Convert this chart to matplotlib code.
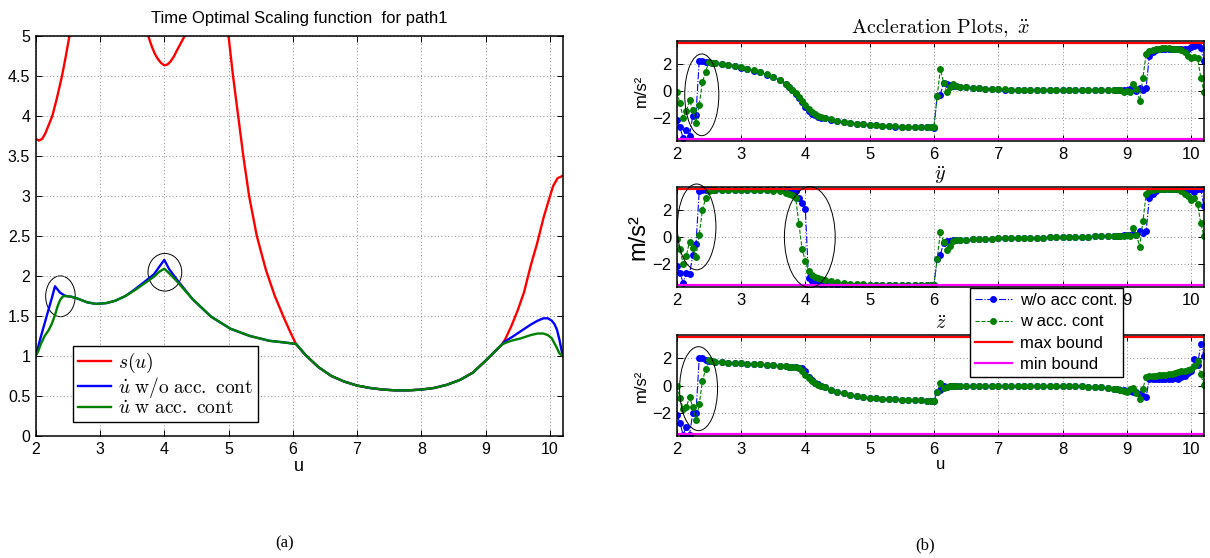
# Libraries
import matplotlib.pyplot as plt
from matplotlib.patches import Ellipse
from matplotlib.ticker import FormatStrFormatter

plt.rcParams['font.family'] = ['Liberation Sans', 'DejaVu Sans']
plt.rcParams['mathtext.fontset'] = 'cm'

# ---------------- (a) scaling function data ----------------
# part shared by all three curves (they coincide between ~6 and ~9.3)
u_mid = [6.05, 6.2, 6.4, 6.6, 6.8, 7.0, 7.2, 7.4, 7.6, 7.8, 8.0, 8.2, 8.4, 8.6, 8.8, 9.0, 9.15, 9.25]
v_mid = [1.15, 1.01, 0.86, 0.75, 0.68, 0.63, 0.60, 0.58, 0.57, 0.57, 0.58, 0.60, 0.64, 0.70, 0.79, 0.94, 1.06, 1.14]

# s(u) before / after the common part
u_s_head = [2.00, 2.05, 2.10, 2.15, 2.20, 2.26, 2.33, 2.41, 2.47, 2.53, 2.60, 2.80, 3.20, 3.60, 3.70,
            3.75, 3.80, 3.85, 3.90, 3.95, 4.00, 4.05, 4.10, 4.15, 4.20, 4.26, 4.32, 4.40, 4.60, 4.90,
            5.00, 5.07, 5.15, 5.23, 5.32, 5.44, 5.58, 5.72, 5.86, 5.96]
s_head = [3.71, 3.69, 3.71, 3.78, 3.88, 4.00, 4.22, 4.50, 4.75, 5.02, 5.40, 6.50, 7.00, 5.60, 5.25,
          5.00, 4.88, 4.78, 4.71, 4.66, 4.63, 4.64, 4.68, 4.74, 4.82, 4.91, 5.00, 5.30, 6.50, 5.60,
          5.00, 4.50, 4.00, 3.50, 3.00, 2.50, 2.08, 1.75, 1.48, 1.30]
u_s_tail = [9.3, 9.4, 9.5, 9.6, 9.7, 9.8, 9.9, 9.97, 10.05, 10.12, 10.2]
s_tail = [1.20, 1.37, 1.57, 1.80, 2.12, 2.40, 2.72, 2.91, 3.12, 3.22, 3.25]

# u_dot with / without acceleration constraint
u_d_head = [2.00, 2.04, 2.08, 2.14, 2.20, 2.25, 2.30, 2.34, 2.38, 2.42, 2.46, 2.55, 2.64, 2.80, 2.94,
            3.10, 3.24, 3.40, 3.54, 3.70, 3.84, 3.92, 4.00, 4.08, 4.20, 4.44, 4.73, 5.03, 5.33, 5.63,
            5.85]
ud_wo_head = [1.00, 1.12, 1.24, 1.41, 1.58, 1.72, 1.87, 1.83, 1.79, 1.77, 1.75, 1.74, 1.72, 1.67, 1.65,
              1.66, 1.69, 1.75, 1.83, 1.93, 2.02, 2.11, 2.20, 2.08, 1.95, 1.71, 1.49, 1.34, 1.25, 1.19,
              1.17]
ud_w_head = [1.00, 1.06, 1.15, 1.25, 1.32, 1.40, 1.51, 1.62, 1.70, 1.74, 1.75, 1.74, 1.72, 1.67, 1.65,
             1.66, 1.69, 1.75, 1.82, 1.91, 1.99, 2.05, 2.09, 2.03, 1.93, 1.71, 1.49, 1.34, 1.25, 1.19,
             1.17]
u_d_tail = [9.30, 9.40, 9.55, 9.70, 9.81, 9.90, 9.97, 10.03, 10.07, 10.11, 10.15, 10.20]
ud_wo_tail = [1.18, 1.23, 1.31, 1.39, 1.44, 1.47, 1.47, 1.44, 1.40, 1.33, 1.20, 1.00]
ud_w_tail = [1.16, 1.19, 1.22, 1.26, 1.28, 1.28, 1.26, 1.22, 1.16, 1.10, 1.03, 1.00]

# ---------------- (b) acceleration data ----------------
u_acc = [2.00, 2.05, 2.10, 2.15, 2.20, 2.25, 2.30, 2.35, 2.40, 2.45, 2.50, 2.55, 2.60,
         2.7, 2.8, 2.9, 3.0, 3.1, 3.2, 3.3, 3.4, 3.5, 3.6, 3.7,
         3.75, 3.80, 3.85, 3.90, 3.95, 4.00, 4.05, 4.10, 4.15, 4.20, 4.25, 4.30,
         4.4, 4.5, 4.6, 4.7, 4.8, 4.9, 5.0, 5.1, 5.2, 5.3, 5.4, 5.5, 5.6, 5.7, 5.8, 5.9,
         5.95, 6.00, 6.05, 6.10, 6.15, 6.20, 6.25, 6.30, 6.35, 6.40,
         6.5, 6.6, 6.7, 6.8, 6.9, 7.0, 7.1, 7.2, 7.3, 7.4, 7.5, 7.6, 7.7, 7.8, 7.9, 8.0,
         8.1, 8.2, 8.3, 8.4, 8.5, 8.6, 8.7, 8.8,
         8.85, 8.90, 8.95, 9.00, 9.05, 9.10, 9.15, 9.20, 9.25, 9.30, 9.35, 9.40, 9.45, 9.50,
         9.55, 9.60, 9.65, 9.70, 9.75, 9.80, 9.85, 9.90, 9.95, 10.00, 10.05, 10.10, 10.15, 10.20]

x_wo = [-2.10, -2.66, -3.44, -2.83, -3.27, -1.80, -1.73, 2.24, 2.24, 2.17, 2.12, 2.10, 2.08,
        2.00, 1.93, 1.83, 1.72, 1.61, 1.50, 1.38, 1.22, 1.03, 0.80, 0.50,
        0.28, 0.05, -0.20, -0.50, -0.80, -1.20, -1.45, -1.65, -1.78, -1.87, -1.95, -2.00,
        -2.10, -2.20, -2.28, -2.34, -2.40, -2.44, -2.48, -2.52, -2.55, -2.58, -2.60, -2.62, -2.63, -2.64, -2.65, -2.66,
        -2.66, -2.67, -0.39, -0.25, 0.60, 0.50, 0.42, 0.38, 0.35, 0.32,
        0.28, 0.24, 0.20, 0.17, 0.15, 0.13, 0.12, 0.11, 0.10, 0.09, 0.08, 0.08, 0.07, 0.07, 0.06, 0.06,
        0.06, 0.06, 0.06, 0.06, 0.06, 0.07, 0.07, 0.08,
        0.08, 0.10, 0.10, 0.12, 0.15, 0.22, 0.00, 0.20, 0.05, 0.25, 2.60, 2.85, 3.00, 3.08,
        3.10, 3.12, 3.12, 3.12, 3.12, 3.10, 3.10, 3.10, 3.07, 3.24, 3.32, 3.37, 3.20, 2.20]
x_w = [-0.05, -0.88, -1.98, -1.49, -0.68, -1.37, -2.34, -1.00, 0.66, 1.44, 2.12, 2.10, 2.08,
       2.02, 1.95, 1.85, 1.74, 1.63, 1.52, 1.40, 1.24, 1.05, 0.82, 0.52,
       0.32, 0.10, -0.13, -0.40, -0.70, -1.05, -1.32, -1.55, -1.70, -1.80, -1.90, -1.97,
       -2.08, -2.18, -2.26, -2.32, -2.38, -2.42, -2.46, -2.50, -2.53, -2.56, -2.58, -2.60, -2.61, -2.62, -2.63, -2.64,
       -2.64, -2.65, -0.39, 1.61, 0.63, -0.10, 0.34, 0.54, 0.40, 0.33,
       0.29, 0.25, 0.21, 0.18, 0.16, 0.14, 0.13, 0.12, 0.11, 0.10, 0.09, 0.09, 0.08, 0.08, 0.07, 0.07,
       0.07, 0.07, 0.07, 0.07, 0.07, 0.08, 0.08, 0.09,
       0.09, 0.10, -0.10, 0.00, -0.10, 0.56, 0.15, -0.70, 1.00, 2.70, 2.95, 3.05, 3.10, 3.12,
       3.13, 3.13, 3.13, 3.12, 3.10, 3.08, 3.00, 2.90, 2.60, 2.40, 2.54, 2.40, 1.00, -0.05]

y_wo = [-2.15, -2.65, -3.33, -2.60, -2.70, -1.30, -0.50, 3.38, 3.43, 3.45, 3.46, 3.47, 3.47,
        3.48, 3.48, 3.48, 3.48, 3.48, 3.48, 3.48, 3.48, 3.48, 3.47, 3.45,
        3.43, 3.40, 3.37, 2.90, 2.50, 2.10, -3.00, -3.25, -3.33, -3.38, -3.42, -3.45,
        -3.47, -3.48, -3.49, -3.50, -3.50, -3.50, -3.50, -3.50, -3.50, -3.50, -3.50, -3.50, -3.50, -3.50, -3.50, -3.50,
        -3.50, -3.50, -1.62, -1.32, -0.40, -0.30, -0.25, -0.22, -0.21, -0.20,
        -0.18, -0.17, -0.15, -0.13, -0.12, -0.10, -0.09, -0.08, -0.07, -0.06, -0.05, -0.04, -0.03, -0.02, -0.01, 0.00,
        0.01, 0.02, 0.03, 0.04, 0.05, 0.06, 0.07, 0.08,
        0.10, 0.12, 0.14, 0.15, 0.17, 0.20, 0.17, 0.42, 0.30, 0.42, 2.90, 3.20, 3.40, 3.50,
        3.50, 3.50, 3.50, 3.50, 3.50, 3.50, 3.50, 3.48, 3.45, 3.50, 3.30, 3.50, 3.50, 2.27]
y_w = [-0.15, -0.90, -1.95, -1.35, -0.33, -0.83, -1.45, 0.17, 1.98, 2.85, 3.40, 3.45, 3.46,
       3.47, 3.47, 3.47, 3.47, 3.47, 3.46, 3.45, 3.43, 3.40, 3.35, 3.25,
       3.18, 3.08, 2.90, 1.00, -0.88, -1.75, -2.50, -2.75, -2.90, -3.00, -3.07, -3.12,
       -3.20, -3.30, -3.37, -3.42, -3.45, -3.47, -3.48, -3.49, -3.49, -3.50, -3.50, -3.50, -3.50, -3.50, -3.50, -3.50,
       -3.50, -3.50, -1.62, 0.37, -0.33, -0.95, -0.62, -0.25, -0.22, -0.20,
       -0.18, -0.17, -0.15, -0.13, -0.12, -0.10, -0.09, -0.08, -0.07, -0.06, -0.05, -0.04, -0.03, -0.02, -0.01, 0.00,
       0.01, 0.02, 0.03, 0.04, 0.05, 0.06, 0.07, 0.08,
       0.10, 0.12, 0.05, 0.17, 0.10, 0.67, 0.17, -0.69, 1.16, 3.13, 3.38, 3.45, 3.50, 3.50,
       3.50, 3.50, 3.50, 3.50, 3.50, 3.50, 3.40, 3.20, 3.00, 2.75, 2.90, 2.40, 1.04, 0.05]

z_wo = [-2.10, -2.70, -3.56, -3.00, -3.56, -1.98, -1.98, 1.98, 1.98, 1.88, 1.82, 1.77, 1.74,
        1.71, 1.68, 1.65, 1.63, 1.60, 1.57, 1.55, 1.52, 1.49, 1.45, 1.41,
        1.39, 1.37, 1.34, 1.30, 1.25, 1.05, 0.60, 0.38, 0.22, 0.10, 0.00, -0.10,
        -0.30, -0.44, -0.56, -0.67, -0.75, -0.82, -0.88, -0.92, -0.95, -0.97, -0.99, -1.01, -1.03, -1.05, -1.07, -1.09,
        -1.11, -1.12, -0.44, -0.30, 0.00, -0.08, -0.06, -0.05, -0.04, -0.04,
        -0.03, -0.03, -0.02, -0.02, -0.02, -0.01, -0.01, -0.01, -0.01, -0.01, -0.01, -0.01, -0.01, -0.01, -0.02, -0.02,
        -0.03, -0.04, -0.05, -0.07, -0.09, -0.12, -0.16, -0.22,
        -0.26, -0.30, -0.33, -0.36, -0.40, -0.43, -0.46, -0.63, -0.75, -0.80, 0.46, 0.46, 0.46, 0.45,
        0.45, 0.45, 0.47, 0.50, 0.59, 0.50, 0.62, 0.70, 0.90, 1.10, 1.90, 1.50, 3.02, 2.17]
z_w = [-0.02, -0.88, -1.68, -1.54, -0.83, -1.56, -2.51, -1.37, 0.34, 1.20, 1.85, 1.78, 1.74,
       1.71, 1.68, 1.65, 1.63, 1.60, 1.57, 1.55, 1.52, 1.49, 1.45, 1.41,
       1.39, 1.37, 1.34, 1.30, 1.10, 0.75, 0.52, 0.35, 0.20, 0.08, -0.02, -0.12,
       -0.30, -0.44, -0.56, -0.67, -0.75, -0.82, -0.88, -0.92, -0.95, -0.97, -0.99, -1.01, -1.03, -1.05, -1.07, -1.09,
       -1.10, -1.11, -0.44, 0.17, -0.20, -0.12, -0.06, -0.05, -0.04, -0.04,
       -0.03, -0.03, -0.02, -0.02, -0.02, -0.01, -0.01, -0.01, -0.01, -0.01, -0.01, -0.01, -0.01, -0.01, -0.02, -0.02,
       -0.03, -0.04, -0.05, -0.07, -0.09, -0.12, -0.16, -0.22,
       -0.26, -0.30, -0.36, -0.46, -0.27, -0.15, -0.56, -1.00, -0.22, 0.66, 0.70, 0.71, 0.73, 0.74,
       0.76, 0.78, 0.82, 0.85, 0.90, 0.97, 1.03, 1.07, 1.15, 1.20, 1.44, 1.80, 0.83, 0.02]

max_bound = 3.5
min_bound = -3.5

# x tick labels; the middle subplot's 7 and 8 sit under the legend box
u_ticks = [2, 3, 4, 5, 6, 7, 8, 9, 10]
u_ticklabels_mid = ['2', '3', '4', '5', '6', '', '', '9', '10']

# highlighted regions (centre u, centre value, width, height)
circles_a = [(2.385, 1.745, 0.46, 0.51), (4.01, 2.045, 0.525, 0.47)]
circles_b = [[(2.39, -0.27, 0.53, 6.0)],
             [(2.31, 0.75, 0.6, 6.3), (4.07, 0.0, 0.79, 7.4)],
             [(2.34, -0.22, 0.59, 6.1)]]

# ---------------- Figure ----------------
fig = plt.figure(figsize=(12.1, 5.58), dpi=100)
W, H = 1210, 558

def px_axes(x0, y0, x1, y1):
    return fig.add_axes([x0 / W, 1 - y1 / H, (x1 - x0) / W, (y1 - y0) / H])

def style(ax, size):
    ax.tick_params(direction='in', top=True, right=True, length=4, width=0.7,
                   labelsize=size, pad=4)
    ax.grid(True, color='0.55', linestyle=(0, (1, 2.5)), linewidth=0.7)
    for sp in ax.spines.values():
        sp.set_linewidth(1.1)

# (a)
axa = px_axes(35.7, 35.7, 562.7, 436)
axa.plot(u_s_head + u_mid + u_s_tail, s_head + v_mid + s_tail, color='r', lw=1.7, label=r'$s(u)$')
axa.plot(u_d_head + u_mid + u_d_tail, ud_wo_head + v_mid + ud_wo_tail, color='b', lw=1.7,
         label=r'$\dot{u}\ \mathrm{w/o\ acc.\ cont}$')
axa.plot(u_d_head + u_mid + u_d_tail, ud_w_head + v_mid + ud_w_tail, color='#008000', lw=1.7,
         label=r'$\dot{u}\ \mathrm{w\ acc.\ cont}$')
for cx, cy, w, h in circles_a:
    axa.add_patch(Ellipse((cx, cy), w, h, fill=False, ec='k', lw=0.7))
axa.set_xlim(2, 10.2)
axa.set_ylim(0, 5)
axa.set_xticks(u_ticks)
axa.set_yticks([0, 0.5, 1, 1.5, 2, 2.5, 3, 3.5, 4, 4.5, 5])
axa.yaxis.set_major_formatter(FormatStrFormatter('%g'))
style(axa, 11.5)
axa.set_title('Time Optimal Scaling function  for path1', fontsize=12, pad=9)
axa.set_xlabel('u', fontsize=13, labelpad=1)
leg = axa.legend(loc='upper left', bbox_to_anchor=(73 / W, 1 - 346 / H), bbox_transform=fig.transFigure,
                 borderaxespad=0, fontsize=14, fancybox=False, edgecolor='k', framealpha=1,
                 handlelength=1.7, handletextpad=0.35, labelspacing=0.0, borderpad=0.25)
leg.get_frame().set_linewidth(1.0)

# (b)
rows = [(41, 141), (187, 287), (335, 436)]
wo_sets = [x_wo, y_wo, z_wo]
w_sets = [x_w, y_w, z_w]
titles = [r'$\mathrm{Accleration\ Plots,}\ \ddot{x}$', r'$\ddot{y}$', r'$\ddot{z}$']
title_pads = [6, 5, 4]
ylab_size = [12, 17, 12]
axes_b = []
for i, (y0, y1) in enumerate(rows):
    ax = px_axes(676.7, y0, 1204, y1)
    ax.plot(u_acc, wo_sets[i], color='b', ls='-.', lw=0.8, marker='o', ms=5.0, mew=0,
            label='w/o acc cont.')
    ax.plot(u_acc, w_sets[i], color='#008000', ls='--', lw=0.8, marker='o', ms=5.0, mew=0,
            label='w acc. cont')
    ax.axhline(max_bound, color='r', lw=1.6, label='max bound')
    ax.axhline(min_bound, color='#ff00ff', lw=1.6, label='min bound')
    for cx, cy, w, h in circles_b[i]:
        ax.add_patch(Ellipse((cx, cy), w, h, fill=False, ec='k', lw=0.7, clip_on=False, zorder=5))
    ax.set_xlim(2, 10.2)
    ax.set_ylim(-3.66, 3.68)
    ax.set_xticks(u_ticks)
    ax.set_yticks([-2, 0, 2])
    style(ax, 12)
    ax.set_title(titles[i], fontsize=14.5, pad=title_pads[i])
    ax.set_ylabel('m/s²', fontsize=ylab_size[i], labelpad=2)
    axes_b.append(ax)
axes_b[1].set_xticklabels(u_ticklabels_mid)
axes_b[2].set_xlabel('u', fontsize=12, labelpad=0)

h, l = axes_b[0].get_legend_handles_labels()
legb = fig.legend(h, l, loc='upper left', bbox_to_anchor=(970 / W, 1 - 288 / H), borderaxespad=0,
                  fontsize=12, fancybox=False, edgecolor='k', framealpha=1, handlelength=2.2,
                  handletextpad=0.5, labelspacing=0.38, borderpad=0.3)
legb.get_frame().set_linewidth(1.0)

fig.text(285 / W, 1 - 543 / H, '(a)', family='Liberation Serif', fontsize=12, ha='center', va='center')
fig.text(925 / W, 1 - 545 / H, '(b)', family='Liberation Serif', fontsize=12, ha='center', va='center')

plt.savefig('out.png', dpi=100)
